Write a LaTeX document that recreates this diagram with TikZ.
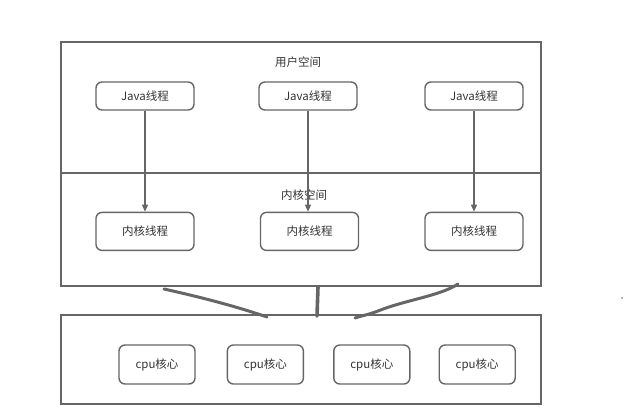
\documentclass[tikz,border=0pt]{standalone}
\usepackage{fontspec}
\setmainfont{Noto Sans CJK SC}
\usetikzlibrary{arrows.meta,positioning}
\definecolor{linegray}{HTML}{666666}
\definecolor{textgray}{HTML}{333333}

\begin{document}
\begin{tikzpicture}[x=1pt, y=-1pt,
  space/.style={rectangle, draw=linegray, line width=1.6pt, minimum width=480pt, inner sep=0pt},
  thread/.style={rectangle, rounded corners=6pt, draw=linegray, line width=1.4pt, minimum width=98pt, text=textgray, font=\fontsize{11.5}{13}\selectfont},
  core/.style={rectangle, rounded corners=6pt, draw=linegray, line width=1.4pt, minimum width=76pt, minimum height=39pt, text=textgray, font=\fontsize{11.5}{13}\selectfont},
  title/.style={text=textgray, font=\fontsize{11.5}{13}\selectfont, inner sep=0pt},
  arrow/.style={-{Triangle[length=7pt,width=6pt]}, line width=1.4pt, draw=linegray},
  scribble/.style={line width=3pt, draw=linegray, line cap=round}
]
\useasboundingbox (0,0) rectangle (629,412);
% three spaces
\node[space, minimum height=131pt] (user) at (301,107.5) {};
\node[space, minimum height=113pt] (kernel) at (301,229.5) {};
\node[space, minimum height=89pt] (cpu) at (301,359.5) {};
\node[title] (usertitle) at (298,62) {用户空间};
\node[title] (kerneltitle) at (304,195) {内核空间};
% user threads
\node[thread, minimum height=28pt] (j1) at (145,96) {Java线程};
\node[thread, minimum height=28pt] (j2) at (308,96) {Java线程};
\node[thread, minimum height=28pt] (j3) at (474,96) {Java线程};
% kernel threads
\node[thread, minimum height=38pt, below=101pt of j1.south, anchor=north] (k1) {内核线程};
\node[thread, minimum height=38pt, below=101pt of j2.south, anchor=north, xshift=1.5pt] (k2) {内核线程};
\node[thread, minimum height=38pt, below=101pt of j3.south, anchor=north] (k3) {内核线程};
\draw[arrow] (j1.south) -- (j1.south |- k1.north);
\draw[arrow] (j2.south) -- (j2.south |- k2.north);
\draw[arrow] (j3.south) -- (j3.south |- k3.north);
% cpu cores
\node[core] (c1) at (157,364.5) {cpu核心};
\node[core, right=31pt of c1] (c2) {cpu核心};
\node[core, right=29pt of c2] (c3) {cpu核心};
\node[core, right=28pt of c3] (c4) {cpu核心};
% freehand strokes
\draw[scribble] (164,289) .. controls (200,297) and (235,306) .. (267,317);
\draw[scribble, line width=3.6pt] (318,287) -- (317,316);
\draw[scribble] (458,284) .. controls (440,296) and (405,300) .. (378,311) .. controls (368,315) and (360,316) .. (355,318);
\fill[linegray] (622,298) circle (0.9pt);
\end{tikzpicture}
\end{document}
